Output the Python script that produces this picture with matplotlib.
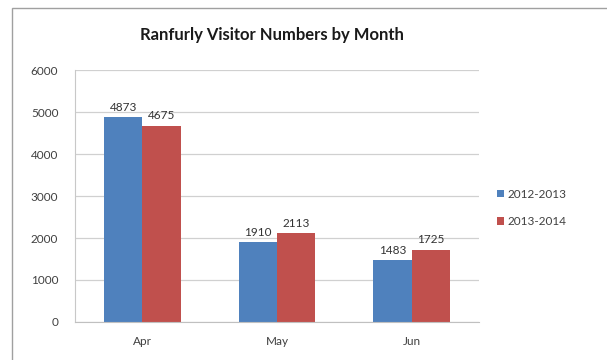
import matplotlib
matplotlib.use("Agg")
import matplotlib.pyplot as plt
import numpy as np
from matplotlib.patches import Rectangle

months = ["Apr", "May", "Jun"]
series_names = ["2012-2013", "2013-2014"]
values_2012 = [4873, 1910, 1483]
values_2013 = [4675, 2113, 1725]
colors = ["#4F81BD", "#C0504D"]

plt.rcParams['font.family'] = ['Lato', 'DejaVu Sans']

fig = plt.figure(figsize=(6.07, 3.6), dpi=100)
fig.patch.set_facecolor("white")
# outer chart frame
fig.add_artist(Rectangle((12/607, -0.1), 1.2, (360-8)/360 + 0.1, transform=fig.transFigure,
                         fill=False, edgecolor="#A0A0A0", linewidth=1.0))

ax = fig.add_axes([75/607, 38/360, 404/607, 252/360])
x = np.arange(len(months))
w = 0.285
b1 = ax.bar(x - w/2, values_2012, w, color=colors[0], label=series_names[0])
b2 = ax.bar(x + w/2, values_2013, w, color=colors[1], label=series_names[1])
for bars in (b1, b2):
    for r in bars:
        ax.annotate(f"{int(r.get_height())}", (r.get_x() + r.get_width()/2, r.get_height()),
                    xytext=(0, 3), textcoords="offset points", ha="center", va="bottom",
                    fontsize=8.5, color="#333333")

ax.set_xlim(-0.5, 2.5)
ax.set_ylim(0, 6000)
ax.set_yticks(range(0, 6001, 1000))
ax.set_xticks(x)
ax.set_xticklabels(months)
ax.yaxis.grid(True, color="#D0D0D0", linewidth=0.9)
ax.set_axisbelow(True)
for s in ["top", "right"]:
    ax.spines[s].set_visible(False)
ax.spines["left"].set_color("#C8C8C8")
ax.spines["bottom"].set_color("#C0C0C0")
ax.tick_params(axis="both", length=0, labelsize=8.5, colors="#404040")
ax.tick_params(axis="y", pad=12)
ax.tick_params(axis="x", pad=10)

fig.text(272/607, 1 - 35/360, "Ranfurly Visitor Numbers by Month", ha="center", va="center",
         fontsize=12, fontweight="bold", color="#1A1A1A")

leg = fig.legend(handles=[b1, b2], labels=series_names, loc="center left",
                 bbox_to_anchor=(486/607, 1 - 208/360), frameon=False, fontsize=8.5,
                 handlelength=0.6, handleheight=0.6, handletextpad=0.3, labelspacing=1.4)
for t in leg.get_texts():
    t.set_color("#404040")

fig.savefig("out.png", dpi=100)
